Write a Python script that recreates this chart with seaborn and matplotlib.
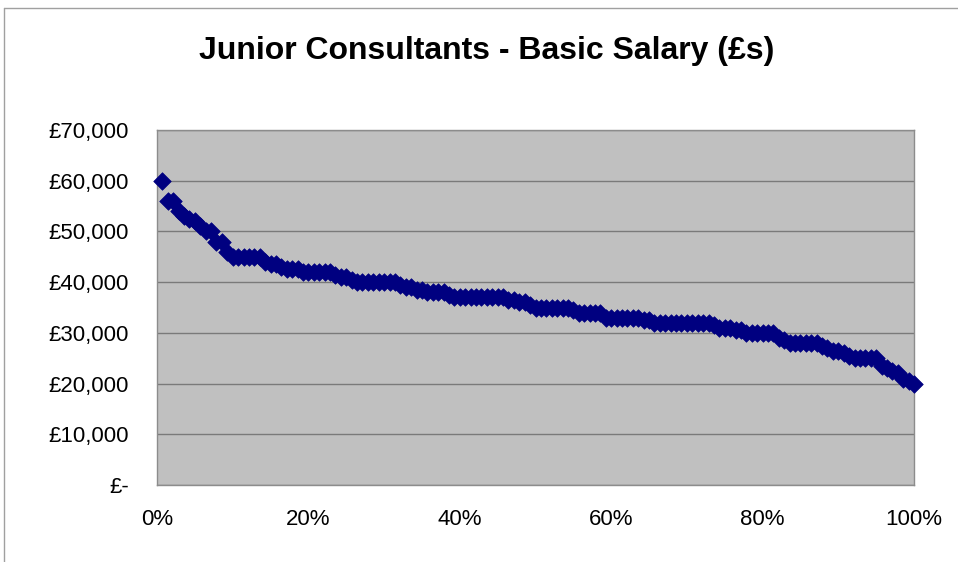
import numpy as np
import pandas as pd
import matplotlib
matplotlib.use("Agg")
import matplotlib.pyplot as plt
from matplotlib.ticker import FuncFormatter, FixedLocator
from matplotlib.lines import Line2D
import seaborn as sns

# basic salary of each junior consultant, sorted high -> low
salary = [
    60000, 56000, 56000, 54000, 53000, 52500, 52000, 51000, 50000, 50000,
    48000, 48000, 46000, 45000, 45000, 45000, 45000, 45000, 45000, 44000,
    43500, 43500, 43000, 42500, 42500, 42500, 42000, 42000, 42000, 42000,
    42000, 42000, 41500, 41000, 41000, 40500, 40000, 40000, 40000, 40000,
    40000, 40000, 40000, 40000, 39500, 39000, 39000, 38500, 38500, 38000,
    38000, 38000, 38000, 37500, 37000, 37000, 37000, 37000, 37000, 37000,
    37000, 37000, 37000, 37000, 36500, 36500, 36000, 36000, 35500, 35000,
    35000, 35000, 35000, 35000, 35000, 35000, 34500, 34000, 34000, 34000,
    34000, 34000, 33000, 33000, 33000, 33000, 33000, 33000, 33000, 32500,
    32500, 32000, 32000, 32000, 32000, 32000, 32000, 32000, 32000, 32000,
    32000, 32000, 31500, 31000, 31000, 31000, 30500, 30500, 30000, 30000,
    30000, 30000, 30000, 30000, 29000, 28500, 28000, 28000, 28000, 28000,
    28000, 28000, 27500, 27000, 26500, 26500, 26000, 25500, 25000, 25000,
    25000, 25000, 25000, 23500, 23000, 22500, 22000, 21000, 20500, 20000,
]
x_ticks = [0, 0.2, 0.4, 0.6, 0.8, 1.0]
x_labels = ["0%", "20%", "40%", "60%", "80%", "100%"]
y_ticks = [0, 10000, 20000, 30000, 40000, 50000, 60000, 70000]

n = len(salary)
df = pd.DataFrame({"rank": [(i + 1) / n for i in range(n)], "salary": salary})

sns.set_style("white")
plt.rcParams["font.family"] = ["Liberation Sans", "DejaVu Sans"]

fig = plt.figure(figsize=(9.58, 5.62), dpi=100)
ax = fig.add_axes([157 / 958, 77 / 562, 757 / 958, 355 / 562])
ax.set_facecolor("#C0C0C0")

sns.scatterplot(data=df, x="rank", y="salary", marker="D", s=80,
                color="#000080", edgecolor="#000080", linewidth=0.5,
                ax=ax, zorder=3, clip_on=False)

ax.set_xlim(0, 1)
ax.set_ylim(0, 70000)
ax.xaxis.set_major_locator(FixedLocator(x_ticks))
ax.set_xticklabels(x_labels)
ax.yaxis.set_major_locator(FixedLocator(y_ticks))
ax.yaxis.set_major_formatter(FuncFormatter(lambda v, p: "£-" if v == 0 else f"£{v:,.0f}"))
ax.set_xlabel("")
ax.set_ylabel("")

ax.grid(axis="y", color="#7a7a7a", linewidth=1)
ax.grid(axis="x", visible=False)
ax.set_axisbelow(True)
for sp in ax.spines.values():
    sp.set_color("#8c8c8c")
    sp.set_linewidth(1)
ax.tick_params(axis="both", which="major", labelsize=16, colors="#8c8c8c",
               labelcolor="black", length=5, width=1, direction="out")
ax.tick_params(axis="x", pad=12)
ax.tick_params(axis="y", pad=15)

fig.text(487 / 958, 1 - 51 / 562, "Junior Consultants - Basic Salary (£s)",
         ha="center", va="center", fontsize=23, fontweight="bold", color="black")

# chart area border (left and top edges visible in the original)
fig.add_artist(Line2D([4 / 958, 4 / 958], [0, 1 - 8 / 562], transform=fig.transFigure,
                      color="#a0a0a0", linewidth=1))
fig.add_artist(Line2D([4 / 958, 1], [1 - 8 / 562, 1 - 8 / 562], transform=fig.transFigure,
                      color="#a0a0a0", linewidth=1))

fig.savefig("out.png", dpi=100, facecolor="white")
